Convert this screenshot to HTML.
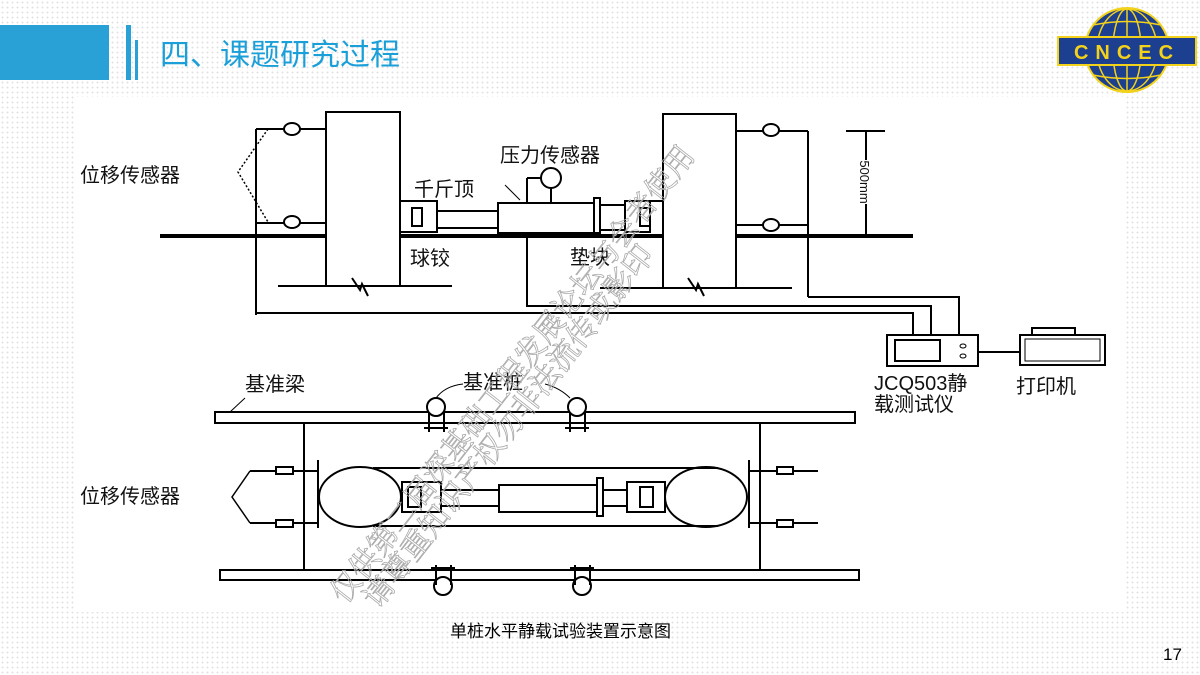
<!DOCTYPE html>
<html><head><meta charset="utf-8"><style>
html,body{margin:0;padding:0;}
body{width:1200px;height:675px;overflow:hidden;position:relative;font-family:"Liberation Sans","Noto Sans CJK SC",sans-serif;
background-color:#fff;background-image:radial-gradient(#e2e2e2 0.8px,transparent 1px);background-size:5px 5px;}
</style></head><body>
<svg width="1200" height="675" viewBox="0 0 1200 675" xmlns="http://www.w3.org/2000/svg" style="position:absolute;left:0;top:0">
<rect x="0" y="25" width="109" height="55" fill="#29a0d6"/>
<rect x="126" y="25" width="5" height="55" fill="#29a0d6"/>
<rect x="135" y="40" width="3" height="40" fill="#29a0d6"/>
<text x="160" y="65" font-size="30" fill="#1a9fd8" font-family="Liberation Sans,Noto Sans CJK SC,sans-serif">四、课题研究过程</text>
<g>
<ellipse cx="1127" cy="50" rx="42" ry="42" fill="#1d3f8f" stroke="#f2d21b" stroke-width="2"/>
<g stroke="#f2d21b" stroke-width="1.5" fill="none">
<ellipse cx="1127" cy="50" rx="14" ry="41"/><ellipse cx="1127" cy="50" rx="30" ry="41"/>
<line x1="1127" y1="9" x2="1127" y2="91"/>
<path d="M1093 25 Q1127 18 1161 25"/><path d="M1093 75 Q1127 82 1161 75"/>
</g>
<rect x="1058" y="37" width="138" height="28" fill="#1d3f8f" stroke="#f2d21b" stroke-width="2"/>
<text x="1127" y="59" font-size="20" font-weight="bold" fill="#f2d21b" text-anchor="middle" letter-spacing="7">CNCEC</text>
</g>
<rect x="75" y="97" width="1050" height="515" fill="#fff"/>
<g stroke="#000" stroke-width="2" fill="none">
<line x1="160" y1="236" x2="326" y2="236" stroke-width="4"/>
<line x1="400" y1="236" x2="663" y2="236" stroke-width="4"/>
<line x1="736" y1="236" x2="913" y2="236" stroke-width="4"/>
<rect x="326" y="112" width="74" height="174" fill="#fff"/>
<line x1="278" y1="286" x2="452" y2="286"/>
<path d="M352 278 L360 290 L362 284 L368 296"/>
<rect x="663" y="114" width="73" height="174" fill="#fff"/>
<line x1="600" y1="288" x2="792" y2="288"/>
<path d="M688 278 L696 290 L698 284 L704 296"/>
<line x1="256" y1="129" x2="256" y2="315"/>
<line x1="256" y1="129" x2="326" y2="129"/>
<line x1="256" y1="223" x2="326" y2="223"/>
<ellipse cx="292" cy="129" rx="8" ry="6" fill="#fff"/>
<ellipse cx="292" cy="222" rx="8" ry="6" fill="#fff"/>
<path d="M268 129 L238 172 L268 222" stroke-dasharray="2 2" stroke-width="1.5"/>
<line x1="808" y1="131" x2="808" y2="297"/>
<line x1="736" y1="131" x2="808" y2="131"/>
<line x1="736" y1="225" x2="808" y2="225"/>
<ellipse cx="771" cy="130" rx="8" ry="6" fill="#fff"/>
<ellipse cx="771" cy="225" rx="8" ry="6" fill="#fff"/>
<path d="M256 313 L913 313 L913 335"/>
<path d="M527 178 L527 306 L931 306 L931 335"/>
<path d="M808 297 L959 297 L959 335"/>
<rect x="400" y="201" width="37" height="31" fill="#fff"/>
<rect x="412" y="208" width="10" height="18"/>
<rect x="437" y="211" width="61" height="17"/>
<rect x="498" y="203" width="96" height="30" fill="#fff"/>
<rect x="594" y="198" width="6" height="35" fill="#fff"/>
<rect x="600" y="205" width="25" height="25"/>
<rect x="625" y="201" width="25" height="31"/>
<rect x="640" y="208" width="10" height="18"/>
<line x1="650" y1="201" x2="663" y2="201"/>
<line x1="527" y1="178" x2="541" y2="178"/>
<circle cx="551" cy="178" r="10" fill="#fff"/>
<line x1="551" y1="188" x2="551" y2="203"/>
<line x1="505" y1="185" x2="520" y2="200" stroke-width="1"/>
<line x1="866" y1="131" x2="866" y2="236"/>
<line x1="846" y1="131" x2="885" y2="131"/>
<rect x="887" y="335" width="91" height="31" fill="#fff"/>
<rect x="895" y="340" width="45" height="21"/>
<ellipse cx="963" cy="346" rx="3" ry="2" stroke-width="1"/>
<ellipse cx="963" cy="356" rx="3" ry="2" stroke-width="1"/>
<line x1="978" y1="352" x2="1020" y2="352"/>
<rect x="1020" y="335" width="85" height="30"/>
<rect x="1025" y="339" width="75" height="22" stroke-width="1"/>
<rect x="1032" y="328" width="43" height="7"/>
<!-- bottom -->
<rect x="215" y="412" width="640" height="11" fill="#fff"/>
<rect x="220" y="570" width="639" height="10" fill="#fff"/>
<line x1="304" y1="423" x2="304" y2="570"/>
<line x1="760" y1="423" x2="760" y2="570"/>
<line x1="318" y1="460" x2="318" y2="528"/>
<line x1="749" y1="460" x2="749" y2="528"/>
<line x1="250" y1="471" x2="318" y2="471"/>
<line x1="250" y1="523" x2="318" y2="523"/>
<rect x="276" y="467" width="17" height="7" fill="#fff"/>
<rect x="276" y="520" width="17" height="7" fill="#fff"/>
<path d="M250 471 L232 497 L250 523" stroke-width="1.5"/>
<line x1="749" y1="471" x2="818" y2="471"/>
<line x1="749" y1="523" x2="818" y2="523"/>
<rect x="777" y="467" width="16" height="7" fill="#fff"/>
<rect x="777" y="520" width="16" height="7" fill="#fff"/>
<ellipse cx="360" cy="497" rx="41" ry="30"/>
<ellipse cx="706" cy="497" rx="41" ry="30"/>
<line x1="373" y1="468" x2="718" y2="468"/>
<line x1="373" y1="526" x2="718" y2="526"/>
<rect x="402" y="482" width="39" height="30" fill="#fff"/>
<rect x="408" y="487" width="13" height="20"/>
<rect x="441" y="490" width="58" height="16" fill="#fff"/>
<rect x="499" y="485" width="98" height="27" fill="#fff"/>
<rect x="597" y="478" width="6" height="38" fill="#fff"/>
<rect x="603" y="490" width="24" height="16" fill="#fff"/>
<rect x="627" y="482" width="38" height="30" fill="#fff"/>
<rect x="640" y="487" width="13" height="20"/>
<circle cx="436" cy="407" r="9" fill="#fff"/><path d="M429 412 V432 M444 412 V432 M424 428 H448"/>
<circle cx="577" cy="407" r="9" fill="#fff"/><path d="M570 412 V432 M585 412 V432 M565 428 H589"/>
<circle cx="443" cy="586" r="9" fill="#fff"/><path d="M436 565 V585 M451 565 V585 M431 568 H455"/>
<circle cx="582" cy="586" r="9" fill="#fff"/><path d="M575 565 V585 M590 565 V585 M570 568 H594"/>
<path d="M230 412 L245 398" stroke-width="1"/>
<path d="M436 398 Q 445 386 463 384 M570 398 Q 560 388 545 384" stroke-width="1"/>
</g>
<g font-size="20" fill="#111" font-family="Liberation Sans,Noto Sans CJK SC,sans-serif">
<text x="80" y="182">位移传感器</text>
<text x="500" y="162">压力传感器</text>
<text x="414" y="196">千斤顶</text>
<text x="410" y="265">球铰</text>
<text x="570" y="264">垫块</text>
<text x="874" y="390">JCQ503静</text>
<text x="874" y="411">载测试仪</text>
<text x="1016" y="393">打印机</text>
<text x="245" y="391">基准梁</text>
<text x="463" y="389">基准桩</text>
<text x="80" y="503">位移传感器</text>
</g>
<rect x="858" y="160" width="16" height="44" fill="#fff"/>
<text transform="translate(860,182) rotate(90)" font-size="13" text-anchor="middle" fill="#111">500mm</text>
<text x="450" y="637" font-size="17" fill="#000" font-family="Liberation Sans,Noto Sans CJK SC,sans-serif">单桩水平静载试验装置示意图</text>
<text x="1163" y="660" font-size="17" fill="#000">17</text>
<g font-size="30" fill="none" stroke="#aaa" stroke-width="0.8" font-family="Liberation Serif,Noto Serif CJK SC,serif">
<text transform="translate(345,605) rotate(-52)">仅供第二届深基础工程发展论坛与会者使用</text>
<text transform="translate(378,610) rotate(-52)">请尊重知识产权勿非法流传或影印</text>
</g>
</svg>
</body></html>
